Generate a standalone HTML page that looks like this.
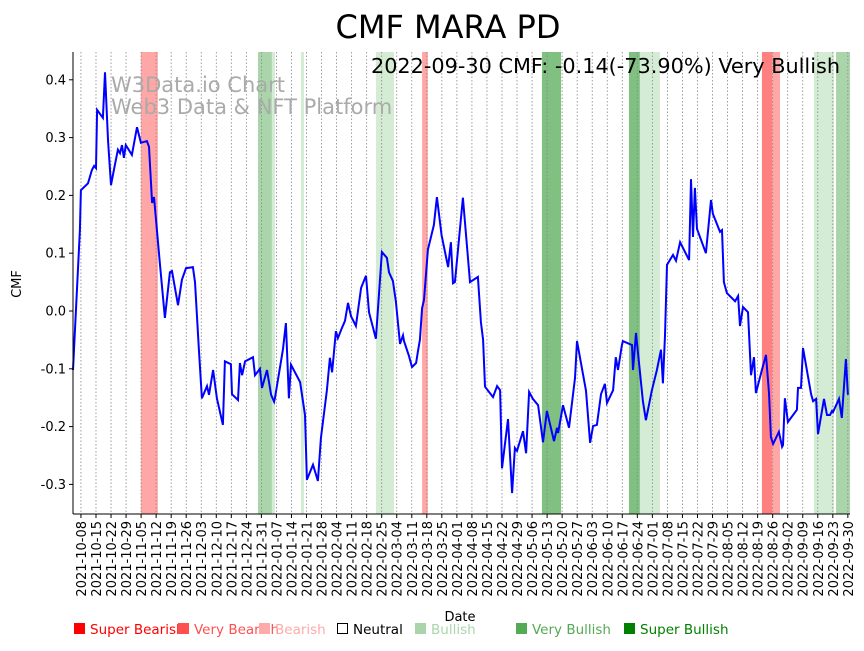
<!DOCTYPE html>
<html><head><meta charset="utf-8"><style>
body{margin:0;background:#fff;font-family:"Liberation Sans","DejaVu Sans",sans-serif}
</style></head><body>
<svg id="chart" width="864" height="646" xmlns="http://www.w3.org/2000/svg" style="font-family:'DejaVu Sans','Liberation Sans',sans-serif">
<text x="448" y="38" font-size="32" text-anchor="middle">CMF MARA PD</text>
<g id="bands"></g><g id="grid"></g>
<text x="111" y="92" font-size="21" fill="#aaa">W3Data.io Chart</text>
<text x="111" y="114" font-size="21" fill="#aaa">Web3 Data &amp; NFT Platform</text>
<path id="line" fill="none" stroke="#0000ff" stroke-width="2"/>
<text x="840" y="73" font-size="20.8" text-anchor="end">2022-09-30 CMF: -0.14(-73.90%) Very Bullish</text>
<line x1="73" y1="52" x2="73" y2="514" stroke="#000"/>
<line x1="73" y1="514" x2="850" y2="514" stroke="#000"/>
<g id="yt"></g><g id="xt"></g>
<text transform="translate(21,284) rotate(-90)" font-size="13" text-anchor="middle">CMF</text>
<text x="460" y="621" font-size="13" text-anchor="middle">Date</text>
<g id="legend" font-size="13.5"></g>
</svg>
<script>
const days=[-3.7,-0.5,0,3.3,5.1,6.1,7.0,7.5,10.2,11.2,12.6,14.0,15.8,17.2,18.2,19.1,20.0,20.9,23.7,26.1,27.9,30.7,31.7,33.1,34.0,36.8,39.1,41.4,42.4,45.2,47.0,48.9,52.1,53.1,54.9,56.3,58.7,59.6,61.5,63.3,66.1,67.0,69.8,70.3,73.1,74.0,75.0,76.4,80.1,81.0,81.9,83.3,84.3,86.6,88.5,89.9,90.3,94.0,95.4,96.8,97.8,102.0,104.3,105.2,108.0,110.3,111.7,114.5,115.9,116.9,118.7,119.6,121.5,122.9,124.3,125.7,128.0,130.4,131.7,132.7,134.1,137.3,140.1,142.4,143.4,145.2,146.6,148.5,149.9,150.4,152.7,154.1,156.0,156.9,157.8,158.8,159.7,161.5,164.3,165.7,167.9,170.9,172.2,173.2,174.1,175.5,177.8,181.1,184.8,186.2,187.2,188.1,191.8,193.7,195.1,196.0,198.8,200.7,202.0,203.0,205.8,207.2,208.6,210.4,212.8,215.1,216.9,220.2,221.6,222.1,224.4,227.2,230.0,230.9,235.1,237.0,238.4,240.2,242.1,243.9,244.9,247.7,249.0,250.0,251.8,252.3,256.5,257.0,258.4,258.8,261.6,263.0,265.8,268.1,270.0,270.9,271.9,272.8,275.6,277.0,278.9,283.1,284.0,284.9,285.8,286.8,290.9,293.3,294.2,297.5,298.4,299.3,300.7,304.5,305.9,306.8,308.2,310.5,311.9,313.3,314.2,317.0,318.9,320.3,321.2,322.2,324.9,326.4,326.8,327.7,329.1,333.3,333.8,335.2,336.1,339.9,340.8,342.2,343.1,345.9,347.3,348.7,349.6,350.1,352.9,354.2,356.1,357.0];
const values=[-0.102,0.140,0.209,0.221,0.244,0.251,0.247,0.348,0.334,0.413,0.296,0.218,0.253,0.279,0.273,0.287,0.265,0.287,0.270,0.318,0.291,0.294,0.284,0.187,0.197,0.080,-0.012,0.067,0.069,0.010,0.054,0.074,0.076,0.050,-0.067,-0.151,-0.130,-0.145,-0.102,-0.151,-0.197,-0.087,-0.092,-0.144,-0.154,-0.090,-0.111,-0.087,-0.080,-0.111,-0.107,-0.100,-0.133,-0.102,-0.145,-0.157,-0.151,-0.067,-0.021,-0.151,-0.093,-0.123,-0.180,-0.292,-0.266,-0.294,-0.220,-0.137,-0.081,-0.106,-0.035,-0.047,-0.029,-0.017,0.014,-0.009,-0.026,0.040,0.052,0.061,-0.002,-0.048,0.102,0.092,0.067,0.052,0.016,-0.057,-0.042,-0.052,-0.078,-0.097,-0.090,-0.069,-0.050,0.005,0.019,0.106,0.149,0.197,0.131,0.076,0.119,0.048,0.050,0.106,0.196,0.050,0.059,-0.019,-0.050,-0.131,-0.149,-0.130,-0.137,-0.272,-0.187,-0.315,-0.237,-0.242,-0.208,-0.246,-0.140,-0.152,-0.163,-0.227,-0.173,-0.225,-0.202,-0.211,-0.163,-0.202,-0.116,-0.052,-0.138,-0.228,-0.199,-0.197,-0.144,-0.126,-0.159,-0.137,-0.080,-0.102,-0.059,-0.052,-0.059,-0.102,-0.038,-0.054,-0.156,-0.189,-0.137,-0.102,-0.067,-0.125,-0.042,0.080,0.097,0.087,0.119,0.088,0.228,0.128,0.213,0.142,0.100,0.192,0.168,0.137,0.140,0.050,0.031,0.017,0.026,-0.026,0.007,-0.002,-0.111,-0.080,-0.142,-0.102,-0.076,-0.142,-0.218,-0.230,-0.209,-0.235,-0.232,-0.151,-0.192,-0.171,-0.133,-0.133,-0.064,-0.144,-0.156,-0.152,-0.213,-0.152,-0.180,-0.180,-0.173,-0.175,-0.152,-0.185,-0.083,-0.145];
const bandStart=[27.9,82.4,88.9,102.4,137.3,158.8,214.6,255.1,260.2,317.0,321.7,341.2,351.5];
const bandEnd=[35.8,88.9,90.3,103.8,145.7,161.5,223.5,260.2,269.5,321.7,325.4,350.5,358.0];
const bandCat=["very-bearish","very-bullish","bullish","bullish","bullish","very-bearish","super-bullish","super-bullish","bullish","super-bearish","very-bearish","bullish","very-bullish"];
const yTicks=[0.4,0.3,0.2,0.1,0.0,-0.1,-0.2,-0.3];
const startDate="2021-10-08";
const NS="http://www.w3.org/2000/svg";
const bandColor={"super-bearish":"#ff8080","very-bearish":"#ffa6a6","bullish":"#d4ebd4","very-bullish":"#aad5aa","super-bullish":"#80c080"};
const X0=73,X1=850,D0=-3.7,D1=358.0,Y0=52,Y1=514;
function x(d){return X0+(d-D0)*(X1-X0)/(D1-D0);}
function y(v){return 311-v*578;}
function mk(t,a,p){const e=document.createElementNS(NS,t);for(const k in a)e.setAttribute(k,a[k]);p.appendChild(e);return e;}
const bg=document.getElementById('bands');
bandStart.forEach((s,i)=>{const r=mk('rect',{x:x(s),y:Y0,width:x(bandEnd[i])-x(s),height:Y1-Y0,fill:bandColor[bandCat[i]]},bg);

});
const gg=document.getElementById('grid'),xt=document.getElementById('xt');
const sd=new Date(startDate+"T00:00:00Z");
for(let w=0;w<=51;w++){const d=w*7;const xx=x(d);
 const l=mk('line',{x1:xx,y1:Y0,x2:xx,y2:Y1,stroke:"#888","stroke-width":0.8,"stroke-dasharray":"1.5,2"},gg);
 
 
 mk('line',{x1:xx,y1:Y1,x2:xx,y2:Y1+4,stroke:"#000"},xt);
 const dt=new Date(sd.getTime()+d*86400000);const s=dt.toISOString().slice(0,10);
 const t=mk('text',{transform:`translate(${xx+5},${Y1+7}) rotate(-90)`,"font-size":13,"text-anchor":"end"},xt);t.textContent=s;
 
 }
const yt=document.getElementById('yt');
yTicks.forEach(v=>{const yy=y(v);mk('line',{x1:X0-4,y1:yy,x2:X0,y2:yy,stroke:"#000"},yt);
 const t=mk('text',{x:X0-7,y:yy+4.5,"font-size":13,"text-anchor":"end"},yt);t.textContent=v.toFixed(1);
 
 });
document.getElementById('line').setAttribute('d',days.map((d,i)=>(i?'L':'M')+x(d).toFixed(1)+','+y(values[i]).toFixed(1)).join(''));
const legNames=["Super Bearish","Very Bearish","Bearish","Neutral","Bullish","Very Bullish","Super Bullish"];
const legColors=["#ff0000","#ff5050","#ffaaaa","#000000","#aad5aa","#55aa55","#008000"];
const legX=[74,178,259,337,415,516,624];
const lg=document.getElementById('legend');
legNames.forEach((n,i)=>{const g=mk('g',{},lg);
 
 
 if(i==3)mk('rect',{x:legX[i]+0.5,y:623.5,width:10,height:10,fill:"none",stroke:"#000"},g);
 else mk('rect',{x:legX[i],y:623,width:11,height:11,fill:legColors[i]},g);
 const t=mk('text',{x:legX[i]+16,y:634,fill:legColors[i],"font-size":13.5},g);t.textContent=n;});
</script>
</body></html>
